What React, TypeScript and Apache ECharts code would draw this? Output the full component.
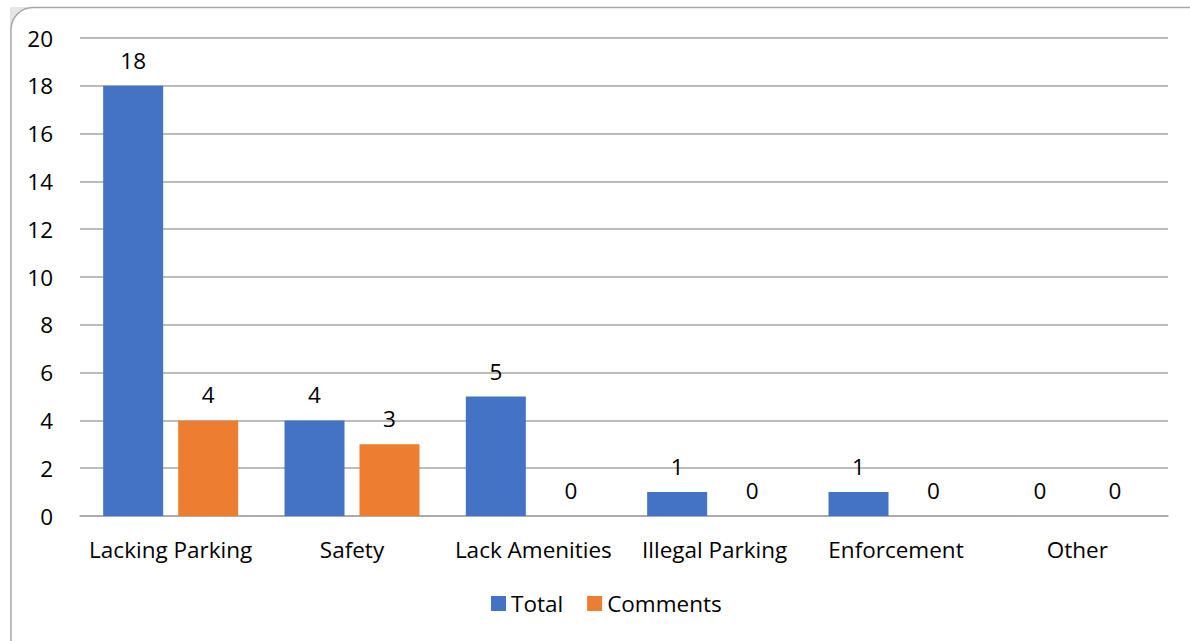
import React, { useEffect, useRef } from "react";
import * as echarts from "echarts";

const categories = ["Lacking Parking", "Safety", "Lack Amenities", "Illegal Parking", "Enforcement", "Other"];
const totalValues = [18, 4, 5, 1, 1, 0];
const commentValues = [4, 3, 0, 0, 0, 0];
const yTicks = { min: 0, max: 20, interval: 2 };

const FONT = "'Open Sans', 'Noto Sans', sans-serif";
const FONT_SIZE = 22.5;
const BLUE = "#4472C4";
const ORANGE = "#ED7D31";

export default function App() {
  const ref = useRef<HTMLDivElement>(null);

  useEffect(() => {
    if (!ref.current) return;
    const chart = echarts.init(ref.current, undefined, { renderer: "svg" });
    const label = {
      show: true,
      position: "top" as const,
      distance: 14,
      color: "#000",
      fontSize: FONT_SIZE,
      fontFamily: FONT,
    };
    chart.setOption({
      animation: false,
      backgroundColor: "#ffffff",
      textStyle: { fontFamily: FONT },
      graphic: [
        {
          type: "rect",
          z: -10,
          silent: true,
          shape: { x: 10, y: 7, width: 1190, height: 650 },
          style: { fill: "#e6e6e6" },
        },
        {
          type: "rect",
          z: -9,
          silent: true,
          shape: { x: 11, y: 7.5, width: 1200, height: 660, r: 22 },
          style: { fill: "#ffffff", stroke: "#a6a6a6", lineWidth: 1.5 },
        },
      ],
      grid: { left: 80, right: 22, top: 38, bottom: 125 },
      legend: {
        bottom: 21,
        left: 486,
        itemWidth: 15,
        itemHeight: 15,
        itemGap: 24,
        icon: "rect",
        textStyle: { fontSize: FONT_SIZE, color: "#000", fontFamily: FONT },
        data: ["Total", "Comments"],
      },
      xAxis: {
        type: "category",
        data: categories,
        axisLine: { show: true, lineStyle: { color: "#a6a6a6", width: 1.5 } },
        axisTick: { show: false },
        axisLabel: { margin: 22, fontSize: FONT_SIZE, color: "#000", fontFamily: FONT, interval: 0 },
      },
      yAxis: {
        type: "value",
        min: yTicks.min,
        max: yTicks.max,
        interval: yTicks.interval,
        axisLine: { show: false },
        axisTick: { show: false },
        axisLabel: { margin: 27, fontSize: FONT_SIZE, color: "#000", fontFamily: FONT },
        splitLine: { lineStyle: { color: "#a6a6a6", width: 1.5 } },
      },
      series: [
        {
          name: "Total",
          type: "bar",
          data: totalValues,
          barWidth: 60,
          barGap: "25%",
          itemStyle: { color: BLUE },
          label,
        },
        {
          name: "Comments",
          type: "bar",
          data: commentValues,
          barWidth: 60,
          itemStyle: { color: ORANGE },
          label,
        },
      ],
    });
    return () => chart.dispose();
  }, []);

  return (
    <div
      ref={ref}
      style={{ position: "absolute", left: 0, top: 0, width: 1190, height: 641 }}
    />
  );
}
